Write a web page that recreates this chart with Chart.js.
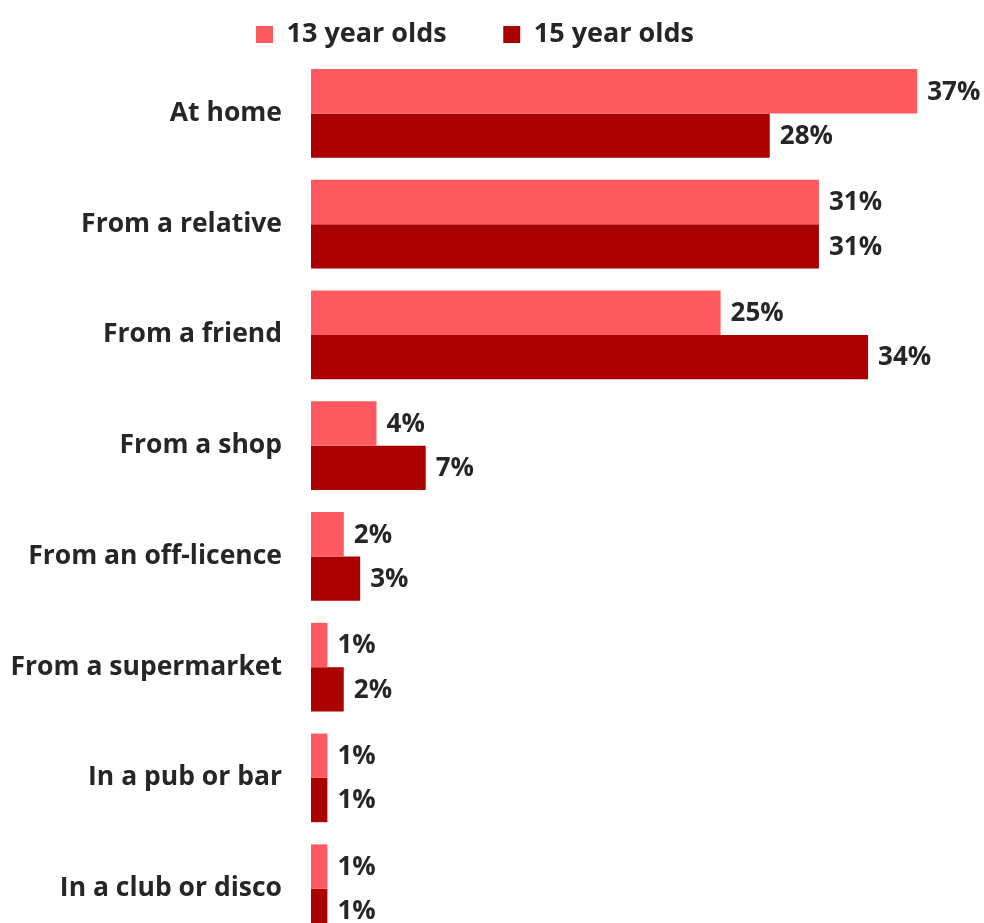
<!DOCTYPE html>
<html lang="en">
<head>
  <meta charset="UTF-8">
  <title>Where alcohol was obtained</title>
  <script src="https://cdn.jsdelivr.net/npm/chart.js@4.4.1/dist/chart.umd.min.js"></script>
  <style>
    html, body {
      margin: 0;
      padding: 0;
      background: #fff;
      overflow: hidden;
    }
    canvas {
      display: block;
    }
  </style>
</head>
<body>
  <canvas id="chart" width="984" height="944"></canvas>
  <script>
    // where the alcohol came from, % of drinkers
    const places = [
      "At home",
      "From a relative",
      "From a friend",
      "From a shop",
      "From an off-licence",
      "From a supermarket",
      "In a pub or bar",
      "In a club or disco"
    ];
    const age13 = [37, 31, 25, 4, 2, 1, 1, 1];
    const age15 = [28, 31, 34, 7, 3, 2, 1, 1];

    const textColor = "#262626";
    const fontFamily = "'Open Sans', 'Noto Sans', sans-serif";

    // writes the value just past the end of each bar
    const valueLabels = {
      id: "valueLabels",
      afterDatasetsDraw(chart) {
        const ctx = chart.ctx;
        ctx.save();
        ctx.font = "bold 26px " + fontFamily;
        ctx.fillStyle = textColor;
        ctx.textAlign = "left";
        ctx.textBaseline = "middle";
        chart.data.datasets.forEach((ds, i) => {
          chart.getDatasetMeta(i).data.forEach((bar, j) => {
            ctx.fillText(ds.data[j] + "%", bar.x + 10, bar.y + 1);
          });
        });
        ctx.restore();
      }
    };

    new Chart(document.getElementById("chart"), {
      type: "bar",
      data: {
        labels: places,
        datasets: [
          {
            label: "13 year olds",
            data: age13,
            backgroundColor: "#ff5a5f",
            categoryPercentage: 0.8,
            barPercentage: 1.0
          },
          {
            label: "15 year olds",
            data: age15,
            backgroundColor: "#aa0000",
            categoryPercentage: 0.8,
            barPercentage: 1.0
          }
        ]
      },
      options: {
        indexAxis: "y",
        responsive: false,
        animation: false,
        layout: {
          padding: { left: 0, right: 34, top: 5, bottom: 0 }
        },
        scales: {
          x: {
            min: 0,
            max: 39,
            display: false
          },
          y: {
            grid: { display: false, drawTicks: false },
            border: { display: false },
            // fixed label column, and no extra space above/below the bars
            afterFit(scale) {
              scale.width = 311;
              scale.paddingTop = 0;
              scale.paddingBottom = 0;
            },
            ticks: {
              color: textColor,
              padding: 29,
              font: { family: fontFamily, size: 26.5, weight: "bold" }
            }
          }
        },
        plugins: {
          legend: {
            position: "top",
            labels: {
              color: textColor,
              boxWidth: 17,
              boxHeight: 17,
              padding: 16,
              font: { family: fontFamily, size: 27, weight: "bold" },
              // extra room after the first entry
              generateLabels(chart) {
                const items = Chart.defaults.plugins.legend.labels.generateLabels(chart);
                items[0].text += "\u2003\u2002";
                return items;
              }
            }
          },
          tooltip: { enabled: false }
        }
      },
      plugins: [valueLabels]
    });
  </script>
</body>
</html>
